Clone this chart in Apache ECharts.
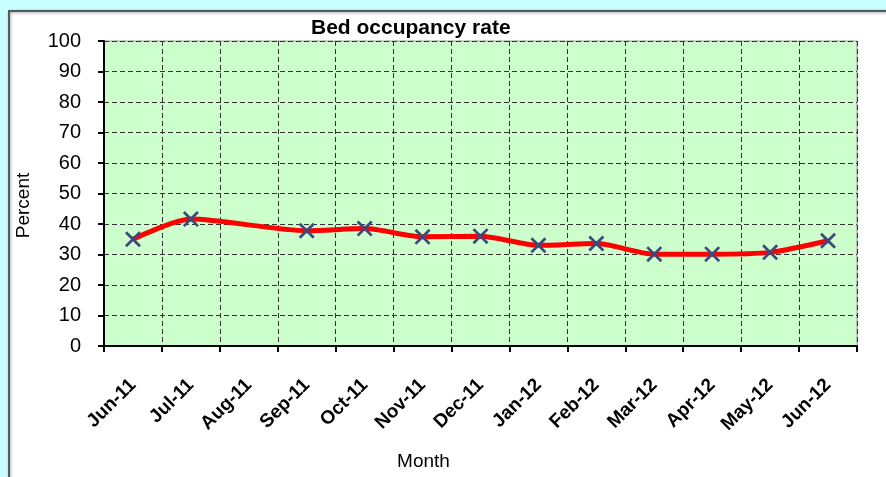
<!DOCTYPE html>
<html>
<head>
<meta charset="utf-8">
<script src="https://cdn.jsdelivr.net/npm/echarts@6/dist/echarts.min.js"></script>
<style>
html,body{margin:0;padding:0;background:#c8ffff;}
#chart{width:886px;height:477px;}
</style>
</head>
<body>
<div id="chart"></div>
<script>
const months = ['Jun-11','Jul-11','Aug-11','Sep-11','Oct-11','Nov-11','Dec-11','Jan-12','Feb-12','Mar-12','Apr-12','May-12','Jun-12'];
const occupancy = [35.0, 41.6, null, 37.8, 38.5, 35.8, 36.0, 33.0, 33.6, 30.1, 30.1, 30.7, 34.5];
const yTicks = [0, 10, 20, 30, 40, 50, 60, 70, 80, 90, 100];

const chart = echarts.init(document.getElementById('chart'), null, {renderer:'canvas'});
const FONT = '"Liberation Sans", Arial, sans-serif';
chart.setOption({
  backgroundColor: '#c8ffff',
  animation: false,
  graphic: [{
    type: 'rect',
    left: 8, top: 10,
    shape: {width: 900, height: 490},
    style: {fill: '#ffffff', stroke: '#4d5d5d', lineWidth: 2, shadowBlur: 3, shadowColor: 'rgba(0,0,0,0.35)', shadowOffsetX: 1, shadowOffsetY: 1},
    z: -10
  }],
  title: {
    text: 'Bed occupancy rate',
    left: 306, top: 13,
    textStyle: {fontFamily: FONT, fontSize: 21, fontWeight: 'bold', color: '#000'}
  },
  grid: {
    left: 104, top: 41, right: 29, bottom: 131,
    outerBoundsMode: 'none',
    containLabel: false,
    show: true, backgroundColor: '#ccffcc', borderColor: '#999999', borderWidth: 1
  },
  xAxis: {
    type: 'category',
    data: months,
    boundaryGap: true,
    name: 'Month',
    nameLocation: 'middle',
    nameGap: 106,
    nameTextStyle: {fontFamily: FONT, fontSize: 19, color: '#000', padding: [0, 114, 0, 0]},
    axisLine: {show: true, lineStyle: {color: '#000', width: 2}},
    axisTick: {show: true, alignWithLabel: false, length: 6, lineStyle: {color: '#000', width: 2}},
    axisLabel: {rotate: 45, interval: 0, margin: 36, fontFamily: FONT, fontSize: 19, fontWeight: 'bold', color: '#000'},
    splitLine: {show: true, interval: 0, lineStyle: {color: '#333', width: 1, type: [5, 3]}}
  },
  yAxis: {
    type: 'value',
    min: 0, max: 100, interval: 10,
    name: 'Percent',
    nameLocation: 'middle',
    nameGap: 71,
    nameRotate: 90,
    nameTextStyle: {fontFamily: FONT, fontSize: 19, color: '#000', padding: [0, 24, 0, 0]},
    axisLine: {show: true, lineStyle: {color: '#000', width: 2}},
    axisTick: {show: true, inside: false, length: 6, lineStyle: {color: '#000', width: 2}},
    axisLabel: {
      margin: 23, fontFamily: FONT, fontSize: 20, color: '#000',
      formatter: v => yTicks.includes(v) ? String(v) : ''
    },
    splitLine: {show: true, lineStyle: {color: '#333', width: 1, type: [5, 3]}}
  },
  series: [{
    type: 'line',
    data: occupancy,
    connectNulls: true,
    smooth: 0.25,
    lineStyle: {color: '#ff0000', width: 5},
    symbol: 'path://M0,1.2L1.2,0L10,8.8L8.8,10ZM8.8,0L10,1.2L1.2,10L0,8.8Z',
    symbolSize: 16,
    itemStyle: {color: '#3b4a7e', borderWidth: 0},
    z: 3
  }]
});
</script>
</body>
</html>
